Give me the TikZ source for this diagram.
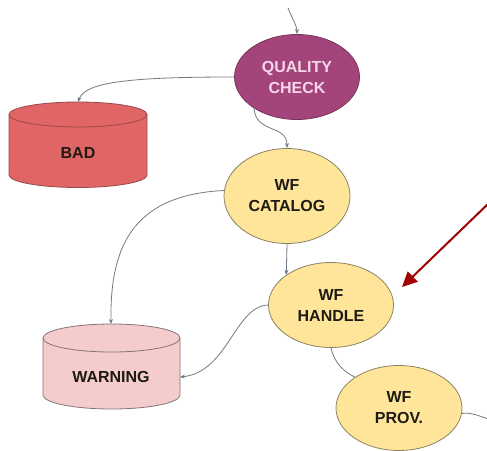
\documentclass[tikz,border=0pt]{standalone}
\usepackage{fontspec}
\setmainfont{Liberation Sans}
\usetikzlibrary{shapes.geometric,arrows.meta}
\definecolor{qcfill}{HTML}{A3457A}
\definecolor{qcline}{HTML}{7A3158}
\definecolor{qctext}{HTML}{F6D6E8}
\definecolor{badfill}{HTML}{E06666}
\definecolor{badline}{HTML}{9A4848}
\definecolor{warnfill}{HTML}{F4CCCC}
\definecolor{warnline}{HTML}{857578}
\definecolor{wffill}{HTML}{FFE599}
\definecolor{wfline}{HTML}{8A8262}
\definecolor{edgecol}{HTML}{6E7A86}
\definecolor{arrowred}{HTML}{A00000}
\definecolor{ink}{HTML}{1E1A14}
\begin{document}
\begin{tikzpicture}[x=1pt,y=-1pt,
  lbl/.style={font=\bfseries\fontsize{16}{21}\selectfont, align=center, text=ink},
  oval/.style={ellipse, line width=0.8pt, minimum width=125pt, minimum height=85pt, inner sep=0pt, lbl},
  wf/.style={oval, draw=wfline, fill=wffill},
  edge/.style={draw=edgecol, line width=0.8pt, -{Stealth[length=5pt,width=4pt]}},
  link/.style={draw=edgecol, line width=0.8pt},
  drum/.style={line width=0.8pt}]
\useasboundingbox (0,0) rectangle (487,450);

% storage drums
\path[drum, fill=badfill, draw=badline] (9,114.5) -- (9,175)
  arc[start angle=180, end angle=360, x radius=69pt, y radius=12.5pt] -- (147,114.5)
  arc[start angle=0, end angle=180, x radius=69pt, y radius=12.5pt] -- cycle;
\draw[drum, draw=badline] (9,114.5) arc[start angle=180, end angle=360, x radius=69pt, y radius=12.5pt];

\path[drum, fill=warnfill, draw=warnline] (43,338) -- (43,395)
  arc[start angle=180, end angle=360, x radius=68.5pt, y radius=14pt] -- (180,338)
  arc[start angle=0, end angle=180, x radius=68.5pt, y radius=14pt] -- cycle;
\draw[drum, draw=warnline] (43,338) arc[start angle=180, end angle=360, x radius=68.5pt, y radius=14pt];

% nodes
\node[oval, fill=qcfill, draw=qcline, text=qctext] (qc) at (297,77) {QUALITY\\CHECK};
\node[wf, minimum height=95pt, minimum width=126pt] (cat) at (287,196) {WF\\CATALOG};
\node[wf] (handle) at (331,305) {WF\\HANDLE};
\node[wf, minimum width=126pt] (prov) at (399,408) {WF\\PROV.};
\node[lbl] (bad) at (78,153) {BAD};
\node[lbl] (warn) at (111,377) {WARNING};

\coordinate (badtop) at (78,102);
\coordinate (warntop) at (111,324);
\coordinate (warnright) at (180,377);
\coordinate (feed) at (288,8);
\coordinate (onward) at (488,419);
\coordinate (ptrA) at (490,202);
\coordinate (ptrB) at (402,287);

% connectors
\draw[edge] (feed) .. controls (292,18) and (297,26) .. (qc.north);
\draw[edge] (qc.west) .. controls (130,77) and (85,82) .. (badtop);
\draw[edge] (qc.216) .. controls (256,134) and (287,124) .. (cat.north);
\draw[edge] (cat.175) .. controls (130,195) and (110,250) .. (warntop);
\draw[edge] (cat.south) -- (handle.146);
\draw[edge] (handle.west) .. controls (235,306) and (228,372) .. (warnright);
\draw[link] (handle.south) .. controls (335,365) and (345,372) .. (prov.145);
\draw[link] (prov.-5) .. controls (470,412) and (480,416) .. (onward);

% pointer
\draw[arrowred, line width=2pt, -{Triangle[length=15pt,width=14pt]}] (ptrA) -- (ptrB);
\end{tikzpicture}
\end{document}
